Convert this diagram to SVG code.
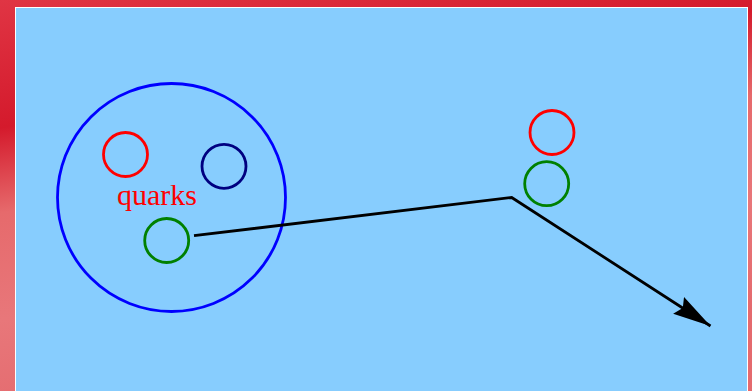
<svg xmlns="http://www.w3.org/2000/svg" width="752" height="391" viewBox="0 0 752 391">
  <defs>
    <linearGradient id="redbg" x1="0" y1="0" x2="0.3" y2="1">
      <stop offset="0" stop-color="#e03544"/>
      <stop offset="0.3" stop-color="#d41a2c"/>
      <stop offset="0.5" stop-color="#e66a6c"/>
      <stop offset="0.75" stop-color="#e8777a"/>
      <stop offset="1" stop-color="#e46a6e"/>
    </linearGradient>
    <marker id="arrow" markerUnits="userSpaceOnUse" markerWidth="42" markerHeight="22" refX="38" refY="10" orient="auto">
      <path d="M0,0 L38,10 L0,20 L5,10 Z" fill="#000"/>
    </marker>
    <style>
      .ring { fill: none; stroke-width: 2.8; }
      .red { stroke: #ff0000; }
      .navy { stroke: #000080; }
      .green { stroke: #008000; }
      .blue { stroke: #0000ff; }
      .conn { fill: none; stroke: #000; stroke-width: 2.8; }
      .label { font-family: "Liberation Serif", "Times New Roman", serif; font-size: 30px; fill: #ff0000; }
    </style>
  </defs>
  <rect x="0" y="0" width="752" height="391" fill="url(#redbg)"/>
  <rect x="15.5" y="7.5" width="732" height="390" fill="#87cdfe" stroke="#ffffff" stroke-width="1"/>

  <g id="hadron">
    <circle class="ring blue" cx="171.5" cy="197.5" r="114"/>
  </g>
  <g id="quark-red">
    <circle class="ring red" cx="125.5" cy="154.5" r="22"/>
  </g>
  <g id="quark-navy">
    <circle class="ring navy" cx="224" cy="166.3" r="22"/>
  </g>
  <g id="quark-green">
    <circle class="ring green" cx="166.7" cy="240.5" r="22"/>
  </g>
  <g id="label-quarks">
    <text class="label" x="117" y="205" textLength="80">quarks</text>
  </g>
  <g id="quark-red-right">
    <circle class="ring red" cx="552" cy="132.5" r="22"/>
  </g>
  <g id="quark-green-right">
    <circle class="ring green" cx="546.7" cy="183.7" r="22"/>
  </g>

  <g id="connectors">
    <polyline class="conn" points="194,235.7 511.7,197.5 710.5,326" marker-end="url(#arrow)"/>
  </g>
</svg>
